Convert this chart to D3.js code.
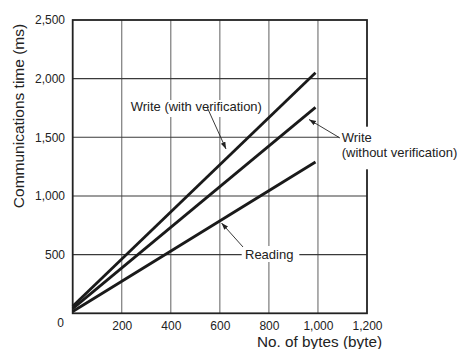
<!DOCTYPE html>
<html>
<head>
<meta charset="utf-8">
<script src="https://cdn.jsdelivr.net/npm/d3@7"></script>
<style>
  html, body { margin: 0; padding: 0; background: #fff; }
  svg { display: block; font-family: "Liberation Sans", Arial, Helvetica, sans-serif; }
</style>
</head>
<body>
<svg id="chart" width="462" height="349"></svg>
<script>
// ---- data ----
const bytes = [0, 990];
const writeWithVerification = [60, 2050];
const writeWithoutVerification = [40, 1755];
const reading = [15, 1290];
const xTicks = [200, 400, 600, 800, 1000, 1200];
const yTicks = [500, 1000, 1500, 2000, 2500];
const xTitle = "No. of bytes (byte)";
const yTitle = "Communications time (ms)";

const svg = d3.select("#chart");
const x = d3.scaleLinear().domain([0, 1200]).range([72.7, 367]);
const y = d3.scaleLinear().domain([0, 2500]).range([313.3, 20]);
const fmt = d3.format(",");

// gridlines
const grid = svg.append("g");
grid.selectAll("line.vx").data(xTicks.slice(0, -1)).enter().append("line")
  .attr("x1", d => x(d)).attr("x2", d => x(d))
  .attr("y1", y(0)).attr("y2", y(2500))
  .attr("stroke", "#6e6e6e").attr("stroke-width", 1.1);
grid.selectAll("line.hy").data(yTicks.slice(0, -1)).enter().append("line")
  .attr("x1", x(0)).attr("x2", x(1200))
  .attr("y1", d => y(d)).attr("y2", d => y(d))
  .attr("stroke", "#3a3a3a").attr("stroke-width", 1.1);

// frame
svg.append("rect")
  .attr("x", x(0)).attr("y", y(2500))
  .attr("width", x(1200) - x(0)).attr("height", y(0) - y(2500))
  .attr("fill", "none").attr("stroke", "#222").attr("stroke-width", 1.8);

// axes (labels only)
const xAxis = d3.axisBottom(x).tickValues(xTicks).tickFormat(fmt).tickSize(0).tickPadding(8.5);
svg.append("g").attr("transform", `translate(0,${y(0)})`).call(xAxis)
  .call(g => g.select(".domain").remove())
  .selectAll("text").attr("font-size", 12).attr("fill", "#222").attr("font-family", "Liberation Sans, Arial, sans-serif");
const yAxis = d3.axisLeft(y).tickValues(yTicks).tickFormat(fmt).tickSize(0).tickPadding(7.7);
svg.append("g").attr("transform", `translate(${x(0)},0)`).call(yAxis)
  .call(g => g.select(".domain").remove())
  .selectAll("text").attr("font-size", 12).attr("fill", "#222").attr("font-family", "Liberation Sans, Arial, sans-serif");
svg.append("text").attr("x", 64).attr("y", 327).attr("text-anchor", "end")
  .attr("font-size", 12).attr("fill", "#222").text("0");

// axis titles
svg.append("text").attr("x", 382).attr("y", 346.6).attr("text-anchor", "end")
  .attr("font-size", 15.3).attr("fill", "#222").text(xTitle);
svg.append("text").attr("transform", "translate(23.5,116) rotate(-90)")
  .attr("text-anchor", "middle").attr("font-size", 15.5).attr("fill", "#222").text(yTitle);

// white backgrounds behind labels
const bg = svg.append("g");
bg.append("rect").attr("x", 128).attr("y", 100).attr("width", 139).attr("height", 17).attr("fill", "#fff");
bg.append("rect").attr("x", 339).attr("y", 126.7).attr("width", 123).attr("height", 42.6).attr("fill", "#fff");
bg.append("rect").attr("x", 241.7).attr("y", 246).attr("width", 57.6).attr("height", 16).attr("fill", "#fff");

// series lines
const series = [writeWithVerification, writeWithoutVerification, reading];
const line = d3.line().x(d => x(d[0])).y(d => y(d[1]));
svg.append("g").selectAll("path").data(series).enter().append("path")
  .attr("d", s => line(bytes.map((b, i) => [b, s[i]])))
  .attr("fill", "none").attr("stroke", "#1a1a1a").attr("stroke-width", 2.8);

// annotations
svg.append("defs").append("marker")
  .attr("id", "arr").attr("viewBox", "0 0 10 10").attr("refX", 10).attr("refY", 5)
  .attr("markerWidth", 7).attr("markerHeight", 7).attr("markerUnits", "userSpaceOnUse")
  .attr("orient", "auto")
  .append("path").attr("d", "M0,1.5 L10,5 L0,8.5 Z").attr("fill", "#222");

const arrows = [
  [207, 107, 226, 149],
  [340, 138, 309, 119.5],
  [243, 247, 221.5, 223]
];
svg.append("g").selectAll("line").data(arrows).enter().append("line")
  .attr("x1", d => d[0]).attr("y1", d => d[1]).attr("x2", d => d[2]).attr("y2", d => d[3])
  .attr("stroke", "#222").attr("stroke-width", 0.9).attr("marker-end", "url(#arr)");

const labels = [
  ["Write (with verification)", 130.7, 110.5],
  ["Write", 341.7, 141.5],
  ["(without verification)", 341.7, 157],
  ["Reading", 245, 258.5]
];
svg.append("g").selectAll("text").data(labels).enter().append("text")
  .attr("x", d => d[1]).attr("y", d => d[2]).attr("font-size", 13).attr("fill", "#222")
  .text(d => d[0]);
</script>
</body>
</html>
